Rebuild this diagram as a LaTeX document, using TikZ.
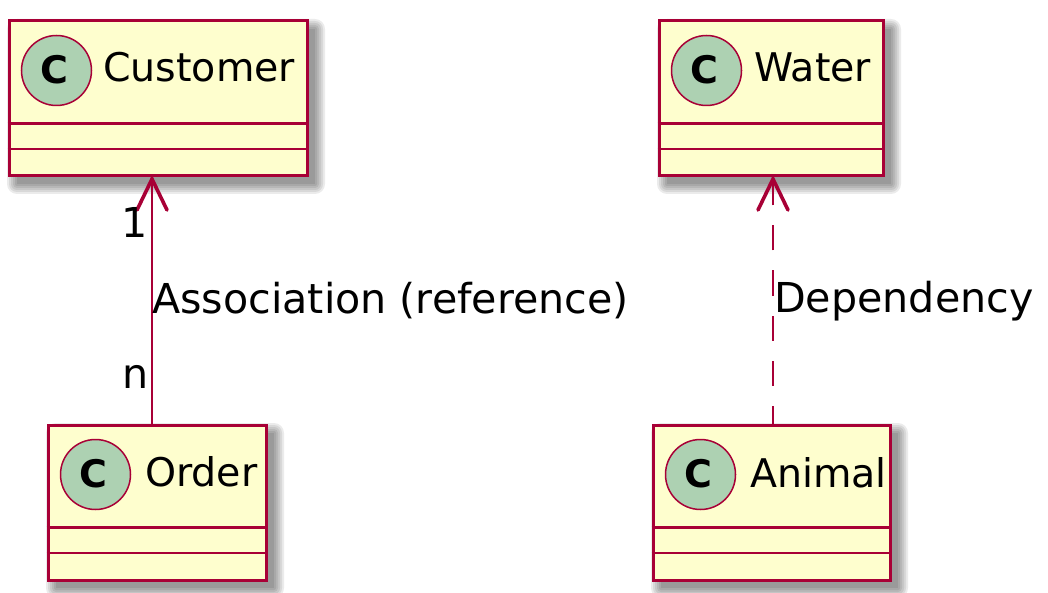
\documentclass[tikz,border=0pt]{standalone}
\usepackage{fontspec}
\setmainfont{DejaVu Sans}
\newfontfamily\boldc{DejaVu Sans Bold}
\usetikzlibrary{calc}
\definecolor{umlfill}{HTML}{FEFECE}
\definecolor{umlline}{HTML}{A80036}
\definecolor{umlcirc}{HTML}{ADD1B2}
\tikzset{
  classbox/.style={draw=umlline, fill=umlfill, line width=3pt, rectangle, inner sep=0pt},
  sepline/.style={draw=umlline, line width=2.8pt},
  circ/.style={circle, draw=umlline, fill=umlcirc, line width=1.5pt, minimum size=70pt, inner sep=0pt},
  cname/.style={anchor=base west, inner sep=0pt, font=\fontsize{39.5}{47}\selectfont},
  clabel/.style={inner sep=0pt, font=\fontsize{41.2}{48}\selectfont},
  conn/.style={draw=umlline, line width=2.4pt},
  headarm/.style={draw=umlline, line width=3.6pt, line cap=round},
}
% #1 name, #2 cx, #3 cy, #4 width, #5 height, #6 label, #7 text x, #8 text baseline
\newcommand\umlclass[8]{%
  \foreach \r in {10,8,6,4,2,0}{%
    \fill[black, opacity=0.08, rounded corners=\r pt]
      ({#2-#4/2+8-\r},{#3-#5/2+8-\r}) rectangle ({#2+#4/2+8+\r},{#3+#5/2+8+\r});
  }
  \node[classbox, minimum width=#4pt, minimum height=#5pt] (#1) at (#2,#3) {};
  \draw[sepline] ($(#1.north west)+(0,104)$) -- ($(#1.north east)+(0,104)$);
  \draw[sepline] ($(#1.north west)+(0,129.5)$) -- ($(#1.north east)+(0,129.5)$);
  \node[circ] (#1c) at ($(#1.north west)+(49,51)$) {};
  \node[inner sep=0pt, font=\boldc\fontsize{38}{40}\selectfont] (#1cl) at ($(#1c.center)+(-2,-1)$) {C};
  \node[cname] (#1t) at (#7,#8) {#6};
}
\begin{document}
\begin{tikzpicture}[x=1pt, y=-1pt]
\useasboundingbox (0,0) rectangle (1048,593);
\fill[white] (0,0) rectangle (1048,593);

\umlclass{cust}{158}{98.5}{298}{155}{Customer}{103}{82}
\umlclass{water}{771}{98.5}{224}{155}{Water}{754}{82}
\umlclass{ord}{157}{502.5}{218}{155}{Order}{145}{486}
\umlclass{anim}{771.5}{502.5}{237}{155}{Animal}{750}{487}

\coordinate (assocx) at (152,0);
\coordinate (depx) at (773,0);

% Association
\coordinate (atip) at ($(cust.south -| assocx)+(0,1.5)$);
\draw[conn] (ord.north -| assocx) -- (atip);
\draw[headarm] ($(atip)+(-15,31)$) -- (atip) -- ($(atip)+(15,31)$);
\node[clabel, anchor=base east] (one) at (148,238) {1};
\node[clabel, anchor=base east] (nn) at (149,388) {n};
\node[clabel, anchor=base west] (alab) at (152,313) {Association (reference)};

% Dependency
\coordinate (dtip) at ($(water.south -| depx)+(0,1.5)$);
\draw[conn, dash pattern=on 25pt off 20pt, dash phase=7pt] (anim.north -| depx) -- (dtip);
\draw[conn] ($(dtip)+(0,22)$) -- (dtip);
\draw[headarm] ($(dtip)+(-15,31)$) -- (dtip) -- ($(dtip)+(15,31)$);
\node[clabel, anchor=base west] (dlab) at (774,312) {Dependency};
\end{tikzpicture}
\end{document}
